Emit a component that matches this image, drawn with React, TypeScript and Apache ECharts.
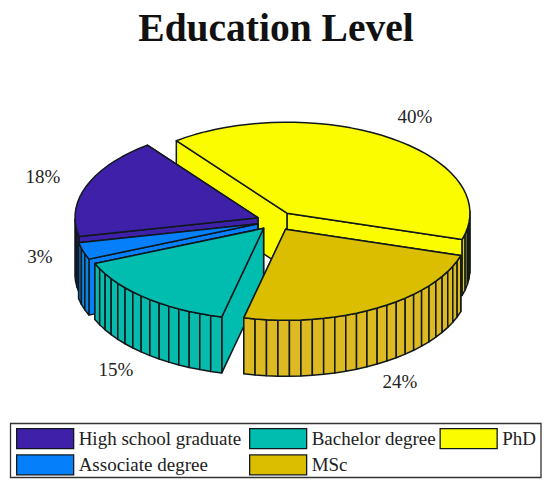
import React, { useEffect, useRef } from "react";
import * as echarts from "echarts";

const categories = ["High school graduate", "Associate degree", "Bachelor degree", "MSc", "PhD"];
const values = [18, 3, 15, 24, 40];
const colors = ["#3F20A8", "#0580FA", "#00BDAF", "#DCBE00", "#FCFC00"];
const sideColors = ["#3F20A8", "#0A86E0", "#06BBAB", "#DDBA22", "#E6CC10"];
const drawOrder = [4, 0, 1, 2, 3];
const labelPositions = [[43, 176], [40, 256], [116, 369], [400, 381], [415, 116]];
const legendColumns = [[0, 1], [2, 3], [4]];
const legendLefts = [16, 249, 439.5];

const CX = 276, CY = 221, RX = 183, RY = 91, H = 56;
const START_ANGLE = 127.2, EXPLODE = 0.105, FACET = 3.6;
const INK = "#10181c";
const FONT = "'Liberation Serif', serif";
const total = values.reduce((a, b) => a + b, 0);
const rad = (d: number) => (d * Math.PI) / 180;

function sliceRange(i: number) {
  const before = values.slice(0, i).reduce((a, b) => a + b, 0);
  return [START_ANGLE + (before / total) * 360, START_ANGLE + ((before + values[i]) / total) * 360];
}

function renderSlice(i: number) {
  return (_params: any, api: any) => {
    const value = api.value(0);
    const [a0, a1] = sliceRange(i);
    const mid = rad((a0 + a1) / 2);
    const ox = CX + EXPLODE * RX * Math.cos(mid);
    const oy = CY - EXPLODE * RY * Math.sin(mid);
    const pt = (deg: number, drop = 0) => [ox + RX * Math.cos(rad(deg)), oy - RY * Math.sin(rad(deg)) + drop];
    const angles: number[] = [];
    for (let t = a0; t < a1 - 0.01; t += FACET) angles.push(t);
    angles.push(a1);
    const poly = (points: number[][], fill: string) => ({
      type: "polygon",
      shape: { points },
      style: { fill, stroke: INK, lineWidth: 1.5, lineJoin: "round" },
    });
    const children: any[] = [];
    for (const deg of [a0, a1]) {
      children.push(poly([[ox, oy], pt(deg), pt(deg, H), [ox, oy + H]], colors[i]));
    }
    for (let k = 0; k < angles.length - 1; k++) {
      const m = rad((angles[k] + angles[k + 1]) / 2);
      if (Math.sin(m) < 0) {
        children.push(
          poly([pt(angles[k]), pt(angles[k + 1]), pt(angles[k + 1], H), pt(angles[k], H)], sideColors[i])
        );
      }
    }
    children.push(poly([[ox, oy], ...angles.map((d) => pt(d))], colors[i]));
    children.push({
      type: "text",
      style: {
        text: `${value}%`,
        x: labelPositions[i][0],
        y: labelPositions[i][1],
        fill: "#222",
        font: `19px ${FONT}`,
        align: "center",
        verticalAlign: "middle",
      },
    });
    return { type: "group", children };
  };
}

export default function App() {
  const ref = useRef<HTMLDivElement>(null);
  useEffect(() => {
    const chart = echarts.init(ref.current!, undefined, { renderer: "svg" });
    chart.setOption({
      animation: false,
      backgroundColor: "#fff",
      title: {
        text: "Education Level",
        left: 271,
        top: 3,
        textAlign: "center",
        textStyle: { fontFamily: FONT, fontWeight: "bold", fontSize: 39.5, color: "#111" },
      },
      graphic: [
        {
          type: "rect",
          shape: { x: 10.5, y: 423.5, width: 530.5, height: 54 },
          style: { fill: "#fff", stroke: "#333", lineWidth: 1.3 },
          z: -1,
        },
      ],
      legend: legendColumns.map((col, c) => ({
        data: col.map((i) => categories[i]),
        orient: "vertical",
        left: legendLefts[c],
        top: 428,
        padding: 0,
        itemWidth: 57,
        itemHeight: 20,
        itemGap: 5,
        icon: "rect",
        selectedMode: false,
        itemStyle: { borderColor: INK, borderWidth: 1.3 },
        textStyle: { fontFamily: FONT, fontSize: 19, color: "#222", padding: [0, 0, 4, 0] },
      })),
      series: drawOrder.map((i) => ({
        type: "custom",
        name: categories[i],
        coordinateSystem: "none",
        silent: true,
        itemStyle: { color: colors[i] },
        data: [[values[i]]],
        renderItem: renderSlice(i),
      })),
    });
    return () => chart.dispose();
  }, []);
  return <div ref={ref} style={{ position: "absolute", left: 0, top: 0, width: 550, height: 488 }} />;
}
